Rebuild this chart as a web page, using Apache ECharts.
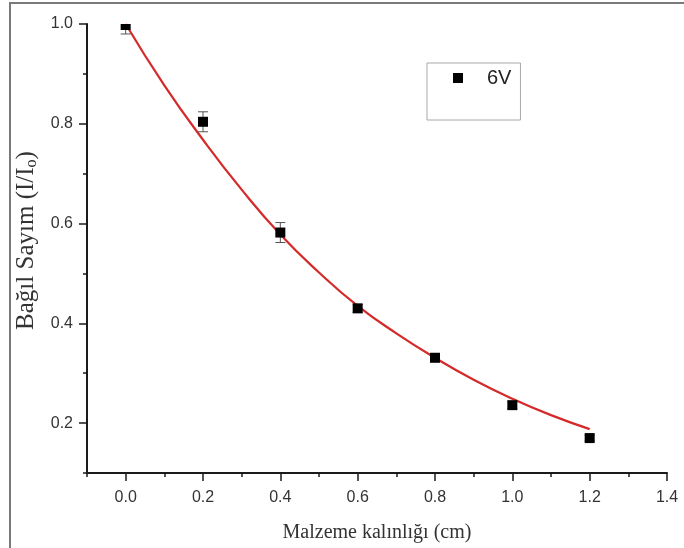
<!DOCTYPE html>
<html>
<head>
<meta charset="utf-8">
<script src="https://cdn.jsdelivr.net/npm/echarts@6/dist/echarts.min.js"></script>
<style>html,body{margin:0;padding:0;background:#fff;}#c{width:684px;height:548px;}</style>
</head>
<body>
<div id="c"></div>
<script>
// Measured data (6V)
const thickness = [0.0, 0.2, 0.4, 0.6, 0.8, 1.0, 1.2];
const relCount = [0.998, 0.804, 0.582, 0.430, 0.331, 0.236, 0.170];
const relErr = [0.018, 0.020, 0.020, 0.008, 0.008, 0.007, 0.006];
// Fitted curve
const fitX = [0.0, 0.1, 0.2, 0.3, 0.4, 0.5, 0.6, 0.7, 0.8, 0.9, 1.0, 1.1, 1.2];
const fitY = [1.0, 0.877, 0.768, 0.668, 0.578, 0.502, 0.435, 0.380, 0.331, 0.287, 0.249, 0.216, 0.188];
// Tick labels
const xMajor = [0.0, 0.2, 0.4, 0.6, 0.8, 1.0, 1.2, 1.4];
const xMinor = [-0.1, 0.1, 0.3, 0.5, 0.7, 0.9, 1.1, 1.3];
const yMajor = [0.2, 0.4, 0.6, 0.8, 1.0];
const yMinor = [0.1, 0.3, 0.5, 0.7, 0.9];

const chart = echarts.init(document.getElementById('c'), null, {renderer: 'canvas'});
const axisCol = '#1a1a1a';
const labelStyle = {fontFamily: 'Liberation Sans, Arial, sans-serif', fontSize: 16, color: '#333'};
const serif = 'Liberation Serif, Times New Roman, serif';

chart.setOption({
  backgroundColor: '#fff',
  animation: false,
  grid: {left: 87, right: 17, top: 24, bottom: 75, containLabel: false},
  legend: {
    data: [{name: '6V', icon: 'rect'}],
    left: 427, top: 63,
    orient: 'vertical',
    itemWidth: 10, itemHeight: 10,
    padding: [5, 9, 32, 26],
    borderColor: '#a8a8a8', borderWidth: 1,
    textStyle: {fontFamily: 'Liberation Sans, Arial, sans-serif', fontSize: 20, color: '#222', padding: [0, 0, 0, 19]},
    selectedMode: false
  },
  xAxis: [{
    type: 'value', min: -0.1, max: 1.4,
    name: 'Malzeme kalınlığı (cm)', nameLocation: 'middle', nameGap: 50,
    nameTextStyle: {fontFamily: serif, fontSize: 20, color: '#333'},
    axisLine: {show: true, onZero: false, lineStyle: {color: axisCol, width: 2}},
    axisTick: {show: true, inside: false, length: 8, customValues: xMajor, lineStyle: {color: axisCol, width: 1.5}},
    axisLabel: {show: true, customValues: xMajor, margin: 17, formatter: v => v.toFixed(1), ...labelStyle},
    splitLine: {show: false}
  }, {
    type: 'value', min: -0.1, max: 1.4, position: 'bottom',
    axisLine: {show: false, onZero: false},
    axisTick: {show: true, inside: false, length: 4, customValues: xMinor, lineStyle: {color: axisCol, width: 1.5}},
    axisLabel: {show: false},
    splitLine: {show: false}
  }],
  yAxis: [{
    type: 'value', min: 0.1, max: 1.0,
    name: 'Bağıl Sayım (I/I{sub|o})', nameLocation: 'middle', nameGap: 44,
    nameTextStyle: {fontFamily: serif, fontSize: 25, color: '#333',
      padding: [0, 0, 0, 16],
      rich: {sub: {fontFamily: serif, fontSize: 16, color: '#333', verticalAlign: 'bottom', padding: [11, 0, 0, 0]}}},
    axisLine: {show: true, onZero: false, lineStyle: {color: axisCol, width: 2}},
    axisTick: {show: true, inside: false, length: 8, customValues: yMajor, lineStyle: {color: axisCol, width: 1.5}},
    axisLabel: {show: true, customValues: yMajor, margin: 14, formatter: v => v.toFixed(1), ...labelStyle},
    splitLine: {show: false}
  }, {
    type: 'value', min: 0.1, max: 1.0, position: 'left',
    axisLine: {show: false, onZero: false},
    axisTick: {show: true, inside: false, length: 4, customValues: yMinor, lineStyle: {color: axisCol, width: 1.5}},
    axisLabel: {show: false},
    splitLine: {show: false}
  }],
  series: [{
    name: 'fit', type: 'line', smooth: true, showSymbol: false, symbol: 'none',
    data: fitX.map((x, i) => [x, fitY[i]]),
    lineStyle: {color: '#d42a2a', width: 2.2}, z: 2
  }, {
    name: 'err', type: 'custom', z: 3, clip: true,
    data: thickness.map((x, i) => [x, relCount[i], relErr[i]]),
    renderItem: function (params, api) {
      const x = api.value(0), y = api.value(1), e = api.value(2);
      const top = api.coord([x, y + e]);
      const bot = api.coord([x, y - e]);
      const w = 5;
      const st = {stroke: '#555', lineWidth: 1};
      return {type: 'group', children: [
        {type: 'line', shape: {x1: top[0], y1: top[1], x2: bot[0], y2: bot[1]}, style: st},
        {type: 'line', shape: {x1: top[0] - w, y1: top[1], x2: top[0] + w, y2: top[1]}, style: st},
        {type: 'line', shape: {x1: bot[0] - w, y1: bot[1], x2: bot[0] + w, y2: bot[1]}, style: st}
      ]};
    }
  }, {
    name: '6V', type: 'custom', z: 4, clip: true,
    itemStyle: {color: '#000'},
    data: thickness.map((x, i) => [x, relCount[i]]),
    renderItem: function (params, api) {
      const p = api.coord([api.value(0), api.value(1)]);
      const s = 10;
      return {type: 'rect', shape: {x: p[0] - s / 2, y: p[1] - s / 2, width: s, height: s}, style: {fill: '#000'}};
    }
  }],
  graphic: [{
    type: 'polyline', silent: true,
    shape: {points: [[10, 548], [10, 3], [684, 3]]},
    style: {stroke: '#7a7a7a', lineWidth: 2, fill: null}
  }]
});
</script>
</body>
</html>
